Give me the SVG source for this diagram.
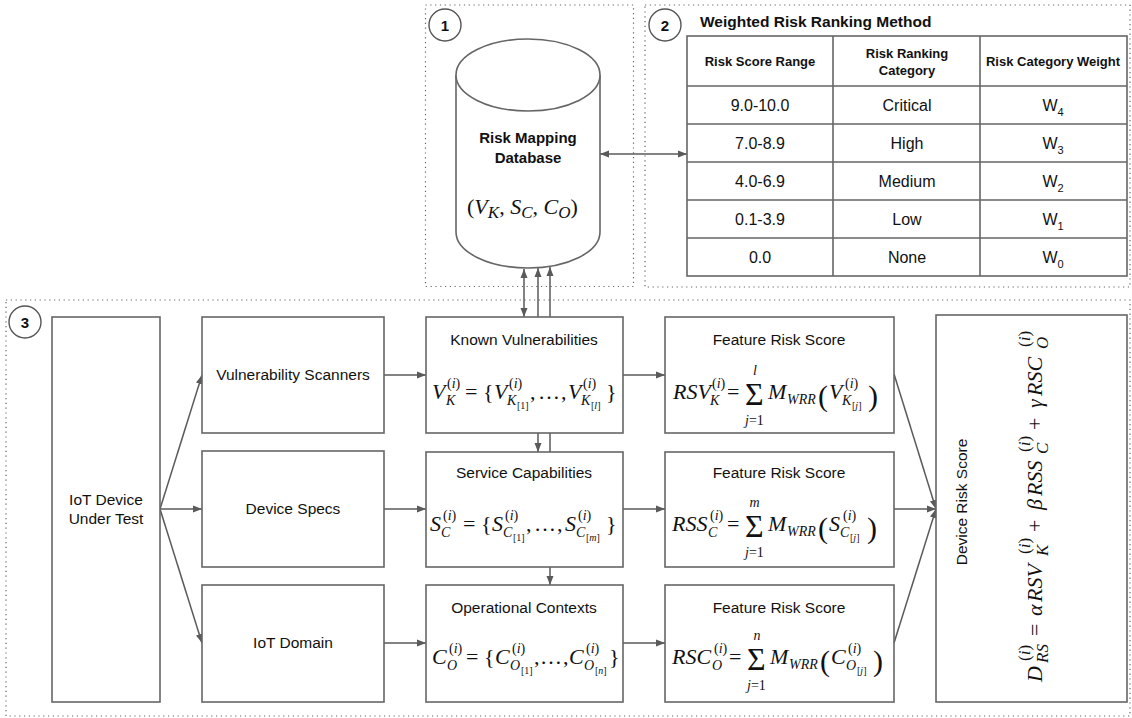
<svg xmlns="http://www.w3.org/2000/svg" width="1132" height="718" viewBox="0 0 1132 718">
<defs>
<style>
.frame{fill:none;stroke:#666;stroke-width:1.2;stroke-dasharray:1.2 3.6}
.box{fill:#fff;stroke:#666;stroke-width:1.6}
.num{fill:#fff;stroke:#555;stroke-width:1.4}
.numt{font-family:"Liberation Sans",Arial,sans-serif;font-weight:bold;font-size:15px;fill:#111;text-anchor:middle}
.lbl{font-family:"Liberation Sans",Arial,sans-serif;font-size:15.5px;fill:#111;text-anchor:middle}
.bold{font-family:"Liberation Sans",Arial,sans-serif;font-weight:bold;fill:#111}
.cell{font-family:"Liberation Sans",Arial,sans-serif;font-size:16px;fill:#111;text-anchor:middle}
.hdr{font-family:"Liberation Sans",Arial,sans-serif;font-weight:bold;font-size:13px;fill:#111;text-anchor:middle}
.m{font-family:"Liberation Serif","Times New Roman",serif;font-size:22px;fill:#111}
.i{font-style:italic}
.s{font-size:14px}
.ss{font-size:10px}
.big{font-size:32px}
.par{font-size:30px}
.conn{fill:none;stroke:#5a5a5a;stroke-width:1.5}
.grid{fill:none;stroke:#666;stroke-width:1.6}
</style>
<marker id="ah" markerUnits="userSpaceOnUse" markerWidth="10" markerHeight="8" refX="9" refY="4" orient="auto-start-reverse">
<path d="M0,0.5 L9,4 L0,7.5 z" fill="#5a5a5a"/>
</marker>
</defs>
<rect width="1132" height="718" fill="#fff"/>

<g id="frames">
<rect class="frame" x="425.5" y="5" width="208" height="281.5"/>
<rect class="frame" x="645" y="5" width="485" height="282"/>
<rect class="frame" x="6" y="300" width="1124" height="416"/>
</g>

<g id="badge1"><circle class="num" cx="445" cy="25" r="16"/><text class="numt" x="445" y="30.5">1</text></g>
<g id="badge2"><circle class="num" cx="665" cy="25" r="16"/><text class="numt" x="665" y="30.5">2</text></g>
<g id="badge3"><circle class="num" cx="25" cy="322" r="16"/><text class="numt" x="25" y="327.5">3</text></g>

<g id="connectors">
<line class="conn" x1="600" y1="154" x2="687" y2="154" marker-start="url(#ah)" marker-end="url(#ah)"/>
<line class="conn" x1="524" y1="269" x2="524" y2="317" marker-start="url(#ah)" marker-end="url(#ah)"/>
<line class="conn" x1="538" y1="317" x2="538" y2="268" marker-end="url(#ah)"/>
<line class="conn" x1="550" y1="317" x2="550" y2="267" marker-end="url(#ah)"/>
<line class="conn" x1="538" y1="433" x2="538" y2="452" marker-end="url(#ah)"/>
<line class="conn" x1="550" y1="433" x2="550" y2="452"/>
<line class="conn" x1="550" y1="567" x2="550" y2="585" marker-end="url(#ah)"/>
<line class="conn" x1="160" y1="509" x2="202" y2="375" marker-end="url(#ah)"/>
<line class="conn" x1="160" y1="509" x2="202" y2="509" marker-end="url(#ah)"/>
<line class="conn" x1="160" y1="509" x2="202" y2="643" marker-end="url(#ah)"/>
<line class="conn" x1="384" y1="375" x2="426" y2="375" marker-end="url(#ah)"/>
<line class="conn" x1="384" y1="509" x2="426" y2="509" marker-end="url(#ah)"/>
<line class="conn" x1="384" y1="643" x2="426" y2="643" marker-end="url(#ah)"/>
<line class="conn" x1="623" y1="375" x2="665" y2="375" marker-end="url(#ah)"/>
<line class="conn" x1="623" y1="509" x2="665" y2="509" marker-end="url(#ah)"/>
<line class="conn" x1="623" y1="643" x2="665" y2="643" marker-end="url(#ah)"/>
<line class="conn" x1="894" y1="374" x2="936" y2="509" marker-end="url(#ah)"/>
<line class="conn" x1="894" y1="509" x2="936" y2="509" marker-end="url(#ah)"/>
<line class="conn" x1="894" y1="643" x2="936" y2="509" marker-end="url(#ah)"/>
</g>

<g id="database">
<path class="box" d="M456,75 L456,232 A72,36 0 0 0 600,232 L600,75"/>
<ellipse class="box" cx="528" cy="75" rx="72" ry="36"/>
<text class="bold" font-size="15" text-anchor="middle" x="528" y="143">Risk Mapping</text>
<text class="bold" font-size="15" text-anchor="middle" x="528" y="163">Database</text>
<text class="m" font-size="25"><tspan x="467" y="214">(</tspan><tspan class="i">V</tspan><tspan class="i" font-size="17" dy="4">K</tspan><tspan dy="-4">, </tspan><tspan class="i">S</tspan><tspan class="i" font-size="17" dy="4">C</tspan><tspan dy="-4">, </tspan><tspan class="i">C</tspan><tspan class="i" font-size="17" dy="4">O</tspan><tspan dy="-4">)</tspan></text>
</g>

<g id="ranking-table">
<text class="bold" font-size="15.5" x="700" y="27">Weighted Risk Ranking Method</text>
<rect class="grid" x="687" y="36" width="440" height="240" fill="#fff"/>
<path class="grid" d="M833,36 V276 M980,36 V276 M687,86 H1127 M687,124 H1127 M687,162 H1127 M687,200 H1127 M687,238 H1127"/>
<text class="hdr" x="760" y="66">Risk Score Range</text>
<text class="hdr" x="907" y="58">Risk Ranking</text>
<text class="hdr" x="907" y="75">Category</text>
<text class="hdr" x="1053" y="66">Risk Category Weight</text>
<text class="cell" x="760" y="111">9.0-10.0</text>
<text class="cell" x="907" y="111">Critical</text>
<text class="cell" x="1053" y="111">W<tspan font-size="11" dy="5">4</tspan></text>
<text class="cell" x="760" y="149">7.0-8.9</text>
<text class="cell" x="907" y="149">High</text>
<text class="cell" x="1053" y="149">W<tspan font-size="11" dy="5">3</tspan></text>
<text class="cell" x="760" y="187">4.0-6.9</text>
<text class="cell" x="907" y="187">Medium</text>
<text class="cell" x="1053" y="187">W<tspan font-size="11" dy="5">2</tspan></text>
<text class="cell" x="760" y="225">0.1-3.9</text>
<text class="cell" x="907" y="225">Low</text>
<text class="cell" x="1053" y="225">W<tspan font-size="11" dy="5">1</tspan></text>
<text class="cell" x="760" y="263">0.0</text>
<text class="cell" x="907" y="263">None</text>
<text class="cell" x="1053" y="263">W<tspan font-size="11" dy="5">0</tspan></text>
</g>

<g id="iot-device">
<rect class="box" x="52" y="317" width="108" height="385"/>
<text class="lbl" x="106" y="505">IoT Device</text>
<text class="lbl" x="106" y="524">Under Test</text>
</g>

<g id="vuln-scanners">
<rect class="box" x="202" y="317" width="182" height="116"/>
<text class="lbl" x="293" y="380">Vulnerability Scanners</text>
</g>
<g id="device-specs">
<rect class="box" x="202" y="451" width="182" height="116"/>
<text class="lbl" x="293" y="514">Device Specs</text>
</g>
<g id="iot-domain">
<rect class="box" x="202" y="585" width="182" height="117"/>
<text class="lbl" x="293" y="648">IoT Domain</text>
</g>

<g id="known-vulns">
<rect class="box" x="426" y="317" width="197" height="116"/>
<text class="lbl" x="524" y="345">Known Vulnerabilities</text>
<text class="m">
<tspan class="i" x="432" y="399">V</tspan>
<tspan class="s" x="447" y="388">(<tspan class="i">i</tspan>)</tspan>
<tspan class="i s" x="446" y="405">K</tspan>
<tspan x="465" y="399">=</tspan>
<tspan x="483" y="399">{</tspan>
<tspan class="i" x="494" y="399">V</tspan>
<tspan class="s" x="509" y="388">(<tspan class="i">i</tspan>)</tspan>
<tspan class="i s" x="507" y="405">K</tspan>
<tspan class="ss" x="517" y="409">[1]</tspan>
<tspan x="530" y="399">,</tspan>
<tspan x="538" y="399">…</tspan>
<tspan x="561" y="399">,</tspan>
<tspan class="i" x="568" y="399">V</tspan>
<tspan class="s" x="583" y="388">(<tspan class="i">i</tspan>)</tspan>
<tspan class="i s" x="581" y="405">K</tspan>
<tspan class="ss" x="591" y="409">[<tspan class="i">l</tspan>]</tspan>
<tspan x="606" y="399">}</tspan>
</text>
</g>

<g id="service-caps">
<rect class="box" x="426" y="452" width="197" height="115"/>
<text class="lbl" x="524" y="478">Service Capabilities</text>
<text class="m">
<tspan class="i" x="430" y="531">S</tspan>
<tspan class="s" x="443" y="520">(<tspan class="i">i</tspan>)</tspan>
<tspan class="i s" x="441" y="537">C</tspan>
<tspan x="463" y="531">=</tspan>
<tspan x="481" y="531">{</tspan>
<tspan class="i" x="492" y="531">S</tspan>
<tspan class="s" x="505" y="520">(<tspan class="i">i</tspan>)</tspan>
<tspan class="i s" x="503" y="537">C</tspan>
<tspan class="ss" x="513" y="541">[1]</tspan>
<tspan x="526" y="531">,</tspan>
<tspan x="534" y="531">…</tspan>
<tspan x="557" y="531">,</tspan>
<tspan class="i" x="565" y="531">S</tspan>
<tspan class="s" x="578" y="520">(<tspan class="i">i</tspan>)</tspan>
<tspan class="i s" x="576" y="537">C</tspan>
<tspan class="ss" x="586" y="541">[<tspan class="i">m</tspan>]</tspan>
<tspan x="606" y="531">}</tspan>
</text>
</g>

<g id="operational-contexts">
<rect class="box" x="426" y="585" width="197" height="117"/>
<text class="lbl" x="524" y="613">Operational Contexts</text>
<text class="m">
<tspan class="i" x="432" y="664">C</tspan>
<tspan class="s" x="449" y="653">(<tspan class="i">i</tspan>)</tspan>
<tspan class="i s" x="447" y="670">O</tspan>
<tspan x="466" y="664">=</tspan>
<tspan x="484" y="664">{</tspan>
<tspan class="i" x="495" y="664">C</tspan>
<tspan class="s" x="512" y="653">(<tspan class="i">i</tspan>)</tspan>
<tspan class="i s" x="510" y="670">O</tspan>
<tspan class="ss" x="521" y="674">[1]</tspan>
<tspan x="534" y="664">,</tspan>
<tspan x="540" y="664">…</tspan>
<tspan x="563" y="664">,</tspan>
<tspan class="i" x="569" y="664">C</tspan>
<tspan class="s" x="586" y="653">(<tspan class="i">i</tspan>)</tspan>
<tspan class="i s" x="584" y="670">O</tspan>
<tspan class="ss" x="595" y="674">[<tspan class="i">n</tspan>]</tspan>
<tspan x="609" y="664">}</tspan>
</text>
</g>

<g id="frs-vuln">
<rect class="box" x="665" y="317" width="229" height="116"/>
<text class="lbl" x="779" y="345">Feature Risk Score</text>
<text class="m">
<tspan class="i" x="673" y="399">RSV</tspan>
<tspan class="s" x="712" y="388">(<tspan class="i">i</tspan>)</tspan>
<tspan class="i s" x="710" y="405">K</tspan>
<tspan x="727" y="399">=</tspan>
<tspan class="big" x="745" y="405">Σ</tspan>
<tspan class="i s" x="753" y="375">l</tspan>
<tspan class="s" x="745" y="425"><tspan class="i">j</tspan>=1</tspan>
<tspan class="i" x="768" y="399">M</tspan>
<tspan class="i s" x="787" y="404">WRR</tspan>
<tspan class="par" x="818" y="406">(</tspan>
<tspan class="i" x="829" y="399">V</tspan>
<tspan class="s" x="845" y="388">(<tspan class="i">i</tspan>)</tspan>
<tspan class="i s" x="842" y="405">K</tspan>
<tspan class="ss" x="852" y="409">[<tspan class="i">j</tspan>]</tspan>
<tspan class="par" x="868" y="406">)</tspan>
</text>
</g>

<g id="frs-service">
<rect class="box" x="665" y="452" width="229" height="115"/>
<text class="lbl" x="779" y="478">Feature Risk Score</text>
<text class="m">
<tspan class="i" x="672" y="531">RSS</tspan>
<tspan class="s" x="710" y="520">(<tspan class="i">i</tspan>)</tspan>
<tspan class="i s" x="708" y="537">C</tspan>
<tspan x="727" y="531">=</tspan>
<tspan class="big" x="745" y="537">Σ</tspan>
<tspan class="i s" x="749.5" y="507">m</tspan>
<tspan class="s" x="745" y="557"><tspan class="i">j</tspan>=1</tspan>
<tspan class="i" x="768" y="531">M</tspan>
<tspan class="i s" x="787" y="536">WRR</tspan>
<tspan class="par" x="818" y="538">(</tspan>
<tspan class="i" x="829" y="531">S</tspan>
<tspan class="s" x="843" y="520">(<tspan class="i">i</tspan>)</tspan>
<tspan class="i s" x="840" y="537">C</tspan>
<tspan class="ss" x="850" y="541">[<tspan class="i">j</tspan>]</tspan>
<tspan class="par" x="867" y="538">)</tspan>
</text>
</g>

<g id="frs-context">
<rect class="box" x="665" y="585" width="229" height="117"/>
<text class="lbl" x="779" y="613">Feature Risk Score</text>
<text class="m">
<tspan class="i" x="672" y="664">RSC</tspan>
<tspan class="s" x="714" y="653">(<tspan class="i">i</tspan>)</tspan>
<tspan class="i s" x="712" y="670">O</tspan>
<tspan x="729" y="664">=</tspan>
<tspan class="big" x="747" y="670">Σ</tspan>
<tspan class="i s" x="753.5" y="640">n</tspan>
<tspan class="s" x="747" y="690"><tspan class="i">j</tspan>=1</tspan>
<tspan class="i" x="770" y="664">M</tspan>
<tspan class="i s" x="789" y="669">WRR</tspan>
<tspan class="par" x="820" y="671">(</tspan>
<tspan class="i" x="831" y="664">C</tspan>
<tspan class="s" x="848" y="653">(<tspan class="i">i</tspan>)</tspan>
<tspan class="i s" x="846" y="670">O</tspan>
<tspan class="ss" x="857" y="674">[<tspan class="i">j</tspan>]</tspan>
<tspan class="par" x="873" y="671">)</tspan>
</text>
</g>

<g id="device-risk-score">
<rect class="box" x="936" y="315" width="191" height="387"/>
<text class="lbl" transform="translate(967,502) rotate(-90)" x="0" y="0">Device Risk Score</text>
<g transform="translate(1042,682) rotate(-90)">
<text class="m" font-size="27">
<tspan class="i" x="0" y="0">D</tspan>
<tspan font-size="17" x="21" y="-12">(<tspan class="i">i</tspan>)</tspan>
<tspan class="i" font-size="17" x="19" y="6">RS</tspan>
<tspan x="46" y="0">=</tspan>
<tspan class="i" x="66" y="0">α</tspan>
<tspan class="i" x="80" y="0">RSV</tspan>
<tspan font-size="17" x="128" y="-12">(<tspan class="i">i</tspan>)</tspan>
<tspan class="i" font-size="17" x="126" y="6">K</tspan>
<tspan x="150" y="0">+</tspan>
<tspan class="i" x="172" y="0">β</tspan>
<tspan class="i" x="186" y="0">RSS</tspan>
<tspan font-size="17" x="230" y="-12">(<tspan class="i">i</tspan>)</tspan>
<tspan class="i" font-size="17" x="228" y="6">C</tspan>
<tspan x="252" y="0">+</tspan>
<tspan class="i" x="274" y="0">γ</tspan>
<tspan class="i" x="286" y="0">RSC</tspan>
<tspan font-size="17" x="335" y="-12">(<tspan class="i">i</tspan>)</tspan>
<tspan class="i" font-size="17" x="333" y="6">O</tspan>
</text>
</g>
</g>
</svg>
